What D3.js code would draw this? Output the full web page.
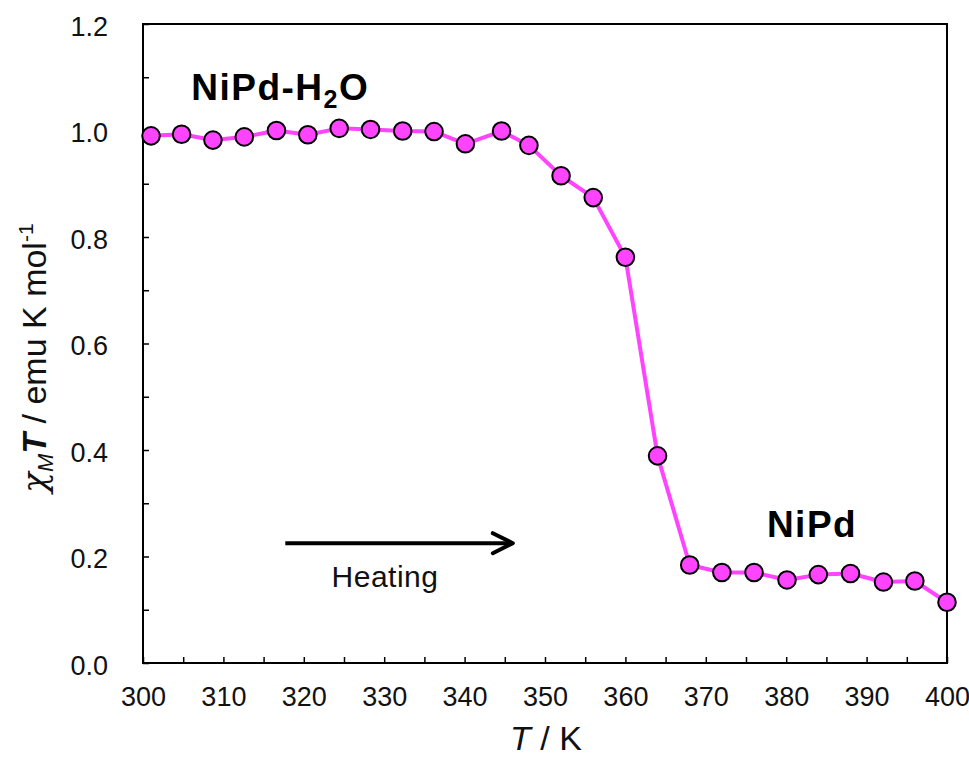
<!DOCTYPE html>
<html>
<head>
<meta charset="utf-8">
<script src="https://cdn.jsdelivr.net/npm/d3@7/dist/d3.min.js"></script>
<style>
  html, body { margin: 0; padding: 0; background: #fff; }
  svg { display: block; font-family: "Liberation Sans", Arial, sans-serif; }
</style>
</head>
<body>
<svg id="chart" width="969" height="758"></svg>
<script>
// ── DATA ───────────────────────────────────────────────────────────────────
const temps = [301, 304.8, 308.7, 312.6, 316.6, 320.5, 324.4, 328.3, 332.3, 336.2,
               340.1, 344.6, 348.0, 352.0, 356.0, 360.0, 364.0, 368.0, 372.0, 376.0,
               380.1, 384.0, 388.0, 392.1, 396.0, 400.0];
const chiT  = [0.990, 0.993, 0.982, 0.988, 1.000, 0.992, 1.004, 1.002, 0.999, 0.998,
               0.975, 0.999, 0.972, 0.915, 0.874, 0.762, 0.389, 0.184, 0.170, 0.170,
               0.156, 0.166, 0.168, 0.152, 0.154, 0.114];
const xTickLabels = [300, 310, 320, 330, 340, 350, 360, 370, 380, 390, 400];
const yTickLabels = [0.0, 0.2, 0.4, 0.6, 0.8, 1.0, 1.2];
const arrowFrom = [317.7, 0.225];
const arrowTo   = [346.0, 0.225];

// ── LAYOUT ─────────────────────────────────────────────────────────────────
const W = 969, H = 758;
const m = { top: 24, right: 22, bottom: 95, left: 143 };
const iw = W - m.left - m.right;
const ih = H - m.top - m.bottom;

const svg = d3.select('#chart');
const g = svg.append('g').attr('transform', `translate(${m.left},${m.top})`);

const x = d3.scaleLinear().domain([300, 400]).range([0, iw]);
const y = d3.scaleLinear().domain([0, 1.2]).range([ih, 0]);

const MAGENTA = '#ff44ff';

// ── AXES (ticks inward) ────────────────────────────────────────────────────
const xAxis = d3.axisBottom(x)
  .tickValues(d3.range(300, 401, 5))
  .tickSizeInner(-6).tickSizeOuter(0)
  .tickPadding(24)
  .tickFormat(d => xTickLabels.includes(d) ? d : '');

const yAxis = d3.axisLeft(y)
  .tickValues(d3.range(0, 13).map(i => i / 10))
  .tickSizeInner(-6).tickSizeOuter(0)
  .tickPadding(35)
  .tickFormat(d => yTickLabels.some(v => Math.abs(v - d) < 1e-9) ? d3.format('.1f')(d) : '');

const gx = g.append('g').attr('transform', `translate(0,${ih})`).call(xAxis);
const gy = g.append('g').call(yAxis);

[gx, gy].forEach(a => {
  a.select('.domain').remove();
  a.selectAll('.tick line').attr('stroke', '#000').attr('stroke-width', 1.5);
  a.selectAll('.tick text').attr('fill', '#111').style('font-size', '27px');
});
gx.selectAll('.tick text').attr('dy', '0.71em');
gy.selectAll('.tick text').attr('dy', '0.42em');

// frame
g.append('rect')
  .attr('width', iw).attr('height', ih)
  .attr('fill', 'none').attr('stroke', '#000').attr('stroke-width', 2);

// ── DATA LINE + MARKERS ────────────────────────────────────────────────────
const pts = temps.map((t, i) => [t, chiT[i]]);

g.append('path')
  .datum(pts)
  .attr('fill', 'none')
  .attr('stroke', MAGENTA)
  .attr('stroke-width', 4)
  .attr('stroke-linejoin', 'round')
  .attr('d', d3.line().x(d => x(d[0])).y(d => y(d[1])));

g.selectAll('circle.pt')
  .data(pts)
  .enter().append('circle')
    .attr('class', 'pt')
    .attr('cx', d => x(d[0]))
    .attr('cy', d => y(d[1]))
    .attr('r', 8.8)
    .attr('fill', MAGENTA)
    .attr('stroke', '#000')
    .attr('stroke-width', 2);

// ── ANNOTATIONS ────────────────────────────────────────────────────────────
const ax1 = x(arrowFrom[0]), ax2 = x(arrowTo[0]), ay = y(arrowFrom[1]);
g.append('line')
  .attr('x1', ax1).attr('x2', ax2 - 2).attr('y1', ay).attr('y2', ay)
  .attr('stroke', '#000').attr('stroke-width', 4);
g.append('path')
  .attr('d', `M${ax2 - 20},${ay - 10} L${ax2},${ay} L${ax2 - 20},${ay + 10}`)
  .attr('fill', 'none').attr('stroke', '#000').attr('stroke-width', 4)
  .attr('stroke-linecap', 'round').attr('stroke-linejoin', 'round');

g.append('text')
  .attr('x', 385 - m.left).attr('y', ay + 44)
  .attr('text-anchor', 'middle')
  .style('font-size', '30px').style('letter-spacing', '0.5px').attr('fill', '#111')
  .text('Heating');

const lblH2O = g.append('text')
  .attr('x', x(306)).attr('y', y(1.057))
  .style('font-size', '37px').style('font-weight', 'bold')
  .style('letter-spacing', '1.5px').attr('fill', '#000');
lblH2O.append('tspan').text('NiPd-H');
lblH2O.append('tspan').attr('dy', 8).style('font-size', '25px').text('2');
lblH2O.append('tspan').attr('dy', -8).text('O');

g.append('text')
  .attr('x', x(377.6)).attr('y', y(0.237))
  .style('font-size', '37px').style('font-weight', 'bold')
  .style('letter-spacing', '1.5px').attr('fill', '#000')
  .text('NiPd');

// axis titles
const xt = svg.append('text')
  .attr('x', m.left + x(350) + 1).attr('y', 750)
  .attr('text-anchor', 'middle')
  .style('font-size', '34px').attr('fill', '#111');
xt.append('tspan').style('font-style', 'italic').text('T');
xt.append('tspan').text(' / K');

const yt = svg.append('text')
  .attr('transform', `translate(46,358) rotate(-90)`)
  .attr('text-anchor', 'middle')
  .style('font-size', '34px').attr('fill', '#111');
yt.append('tspan').style('font-style', 'italic').style('font-family', '"DejaVu Serif", serif').text('χ');
yt.append('tspan').attr('dy', 7).style('font-style', 'italic').style('font-size', '22px').text('M');
yt.append('tspan').attr('dy', -7).style('font-style', 'italic').style('font-weight', 'bold').text('T');
yt.append('tspan').text(' / emu K mol');
yt.append('tspan').attr('dy', -13).style('font-size', '21px').text('-1');
</script>
</body>
</html>
